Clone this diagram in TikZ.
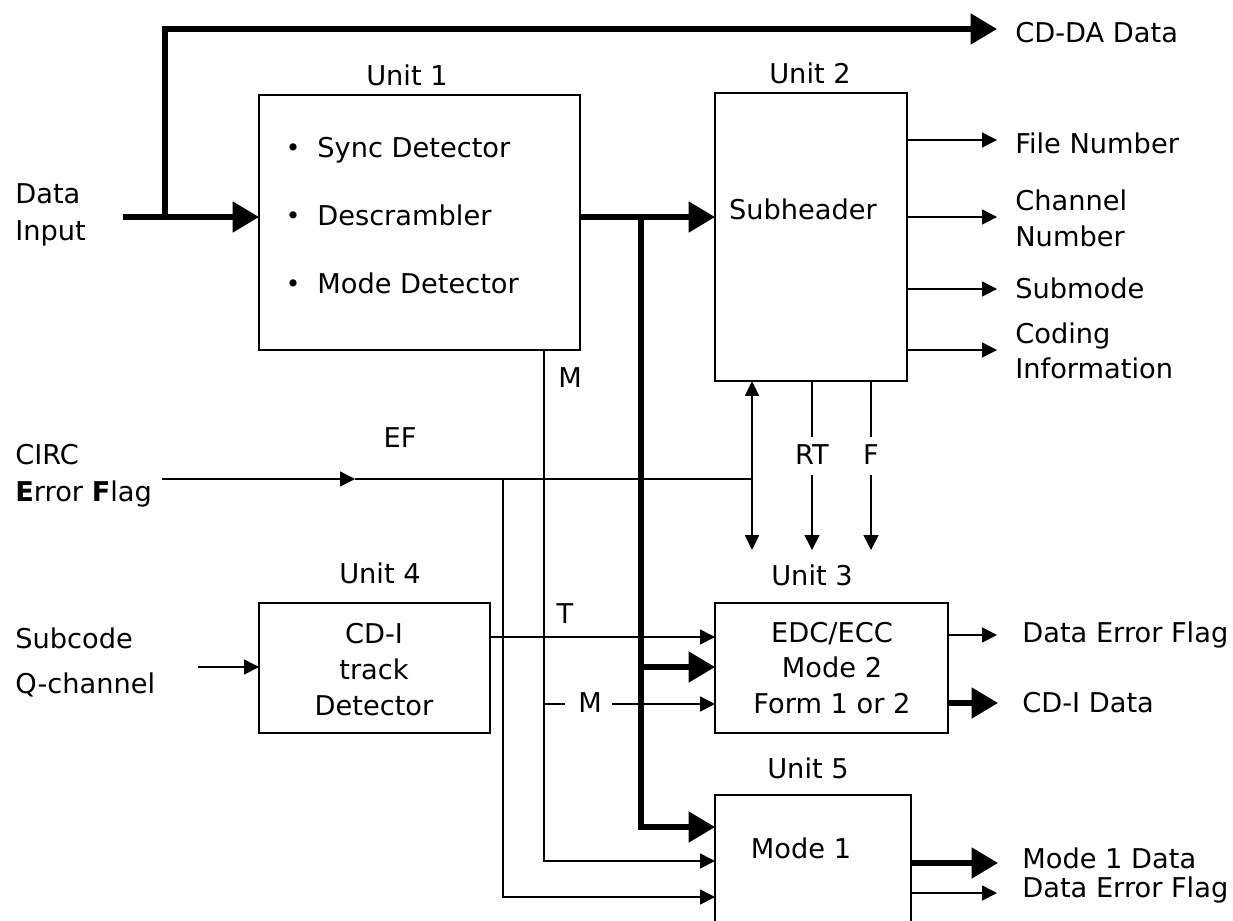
\documentclass[tikz,border=0pt]{standalone}
\usepackage{fontspec}
\setmainfont{DejaVu Sans}
\usetikzlibrary{arrows.meta}

\begin{document}
\begin{tikzpicture}[x=0.02cm,y=-0.02cm,
  font=\fontsize{15.5}{18}\selectfont,
  box/.style={draw,line width=1.2pt,outer sep=0pt,inner sep=0pt},
  wire/.style={line width=0.9pt},
  bus/.style={line width=3pt},
  sarr/.style={-{Triangle[length=8.5pt,width=8.5pt]}},
  darr/.style={{Triangle[length=8.5pt,width=8pt]}-{Triangle[length=8.5pt,width=8pt]}},
  barr/.style={-{Triangle[length=15pt,width=17pt]}},
  lbl/.style={anchor=base,inner sep=0pt},
  lblw/.style={anchor=base west,inner sep=0pt},
  dot/.style={anchor=base,inner sep=0pt,font=\fontsize{14}{14}\selectfont}]

\useasboundingbox (0,0) rectangle (1233,920);

% ---------------- blocks ----------------
\node[box,minimum width=6.42cm,minimum height=5.1cm]  (u1) at (419.5,222.5) {};
\node[box,minimum width=3.84cm,minimum height=5.76cm] (u2) at (811,237) {};
\node[box,minimum width=4.66cm,minimum height=2.6cm]  (u3) at (831.5,668) {};
\node[box,minimum width=4.62cm,minimum height=2.6cm]  (u4) at (374.5,668) {};
\node[box,minimum width=3.92cm,minimum height=2.9cm]  (u5) at (813,867.5) {};

% block titles
\node[lbl] (t1) at (407,85)  {Unit 1};
\node[lbl] (t2) at (810,83)  {Unit 2};
\node[lbl] (t3) at (812,585) {Unit 3};
\node[lbl] (t4) at (380,583) {Unit 4};
\node[lbl] (t5) at (808,778) {Unit 5};

% block contents
\node[dot]  (d1) at (293,156) {•};
\node[lblw] (s1) at (317,157) {Sync Detector};
\node[dot]  (d2) at (293,224) {•};
\node[lblw] (s2) at (317,225) {Descrambler};
\node[dot]  (d3) at (293,292) {•};
\node[lblw] (s3) at (317,293) {Mode Detector};

\node[lbl] (sh) at (803,219) {Subheader};

\node[lbl] (e1) at (832,642) {EDC/ECC};
\node[lbl] (e2) at (832,677) {Mode 2};
\node[lbl] (e3) at (832,713) {Form 1 or 2};

\node[lbl] (c1) at (374,643) {CD-I};
\node[lbl] (c2) at (374,679) {track};
\node[lbl] (c3) at (374,715) {Detector};

\node[lbl] (m1) at (801,858) {Mode 1};

% ---------------- input labels ----------------
\node[lblw] (in1) at (15,203) {Data};
\node[lblw] (in2) at (15,240) {Input};
\node[lblw] (in3) at (15,464) {CIRC};
\node[lblw] (in4) at (15,501) {\textbf{E}rror \textbf{F}lag};
\node[lblw] (in5) at (15,648) {Subcode};
\node[lblw] (in6) at (15,693) {Q-channel};

% ---------------- output labels ----------------
\node[lblw] (o0)  at (1015,42)  {CD-DA Data};
\node[lblw] (o1)  at (1015,153) {File Number};
\node[lblw] (o2a) at (1015,210) {Channel};
\node[lblw] (o2b) at (1015,246) {Number};
\node[lblw] (o3)  at (1015,298) {Submode};
\node[lblw] (o4a) at (1015,343) {Coding};
\node[lblw] (o4b) at (1015,378) {Information};
\node[lblw] (o5)  at (1022,642) {Data Error Flag};
\node[lblw] (o6)  at (1022,712) {CD-I Data};
\node[lblw] (o7)  at (1022,868) {Mode 1 Data};
\node[lblw] (o8)  at (1022,897) {Data Error Flag};

% ---------------- signal labels ----------------
\node[lbl] (lef) at (400,447) {EF};
\node[lbl] (lm1) at (570,387) {M};
\node[lbl] (lrt) at (812,464) {RT};
\node[lbl] (lf)  at (871,464) {F};
\node[lbl] (lt)  at (565,623) {T};
\node[lbl] (lm2) at (590,712) {M};

% ---------------- coordinates of wires ----------------
\coordinate (din)  at (123,217);
\coordinate (tap)  at (165,217);
\coordinate (cdda) at (997,29);
\coordinate (bus)  at (641,217);
\coordinate (b3)   at (641,667);
\coordinate (b5)   at (641,827);
\coordinate (fn)   at (997,140);
\coordinate (cn)   at (997,217);
\coordinate (sm)   at (997,289);
\coordinate (ci)   at (997,350);
\coordinate (def3) at (997,635);
\coordinate (cdi)  at (998,703);
\coordinate (m1d)  at (998,863);
\coordinate (def5) at (997,893);
\coordinate (mx)   at (544,861);
\coordinate (m2)   at (544,704);
\coordinate (m2a)  at (565,704);
\coordinate (m2b)  at (612,704);
\coordinate (ef0)  at (162,479);
\coordinate (efm)  at (355,479);
\coordinate (efe)  at (752,479);
\coordinate (efd)  at (503,897);
\coordinate (da)   at (752,550);
\coordinate (rta)  at (812,437);
\coordinate (rtb)  at (812,475);
\coordinate (rt)   at (812,550);
\coordinate (fa)   at (871,437);
\coordinate (fb)   at (871,475);
\coordinate (ff)   at (871,550);
\coordinate (tt)   at (715,637);
\coordinate (sq)   at (198,667);

% ---------------- thick data paths ----------------
\draw[bus,barr] (din) -- (din -| u1.west);
\draw[bus,barr] (tap) -- (tap |- cdda) -- (cdda);
\draw[bus,barr] (bus -| u1.east) -- (bus -| u2.west);
\draw[bus,barr] (bus) -- (b5) -- (b5 -| u5.west);
\draw[bus,barr] (b3) -- (b3 -| u3.west);
\draw[bus,barr] (cdi -| u3.east) -- (cdi);
\draw[bus,barr] (m1d -| u5.east) -- (m1d);

% ---------------- thin control paths ----------------
\draw[wire,sarr] (fn -| u2.east) -- (fn);
\draw[wire,sarr] (cn -| u2.east) -- (cn);
\draw[wire,sarr] (sm -| u2.east) -- (sm);
\draw[wire,sarr] (ci -| u2.east) -- (ci);
\draw[wire,sarr] (def3 -| u3.east) -- (def3);
\draw[wire,sarr] (def5 -| u5.east) -- (def5);

\draw[wire,sarr] (mx |- u1.south) -- (mx) -- (mx -| u5.west);
\draw[wire] (m2) -- (m2a);
\draw[wire,sarr] (m2b) -- (m2b -| u3.west);

\draw[wire,sarr] (ef0) -- (efm);
\draw[wire] (efm) -- (efe);
\draw[wire,sarr] (efd |- ef0) -- (efd) -- (efd -| u5.west);

\draw[wire,darr] (da |- u2.south) -- (da);
\draw[wire] (rta |- u2.south) -- (rta);
\draw[wire,sarr] (rtb) -- (rt);
\draw[wire] (fa |- u2.south) -- (fa);
\draw[wire,sarr] (fb) -- (ff);

\draw[wire,sarr] (u4.east |- tt) -- (tt -| u3.west);
\draw[wire,sarr] (sq) -- (sq -| u4.west);

\end{tikzpicture}
\end{document}
